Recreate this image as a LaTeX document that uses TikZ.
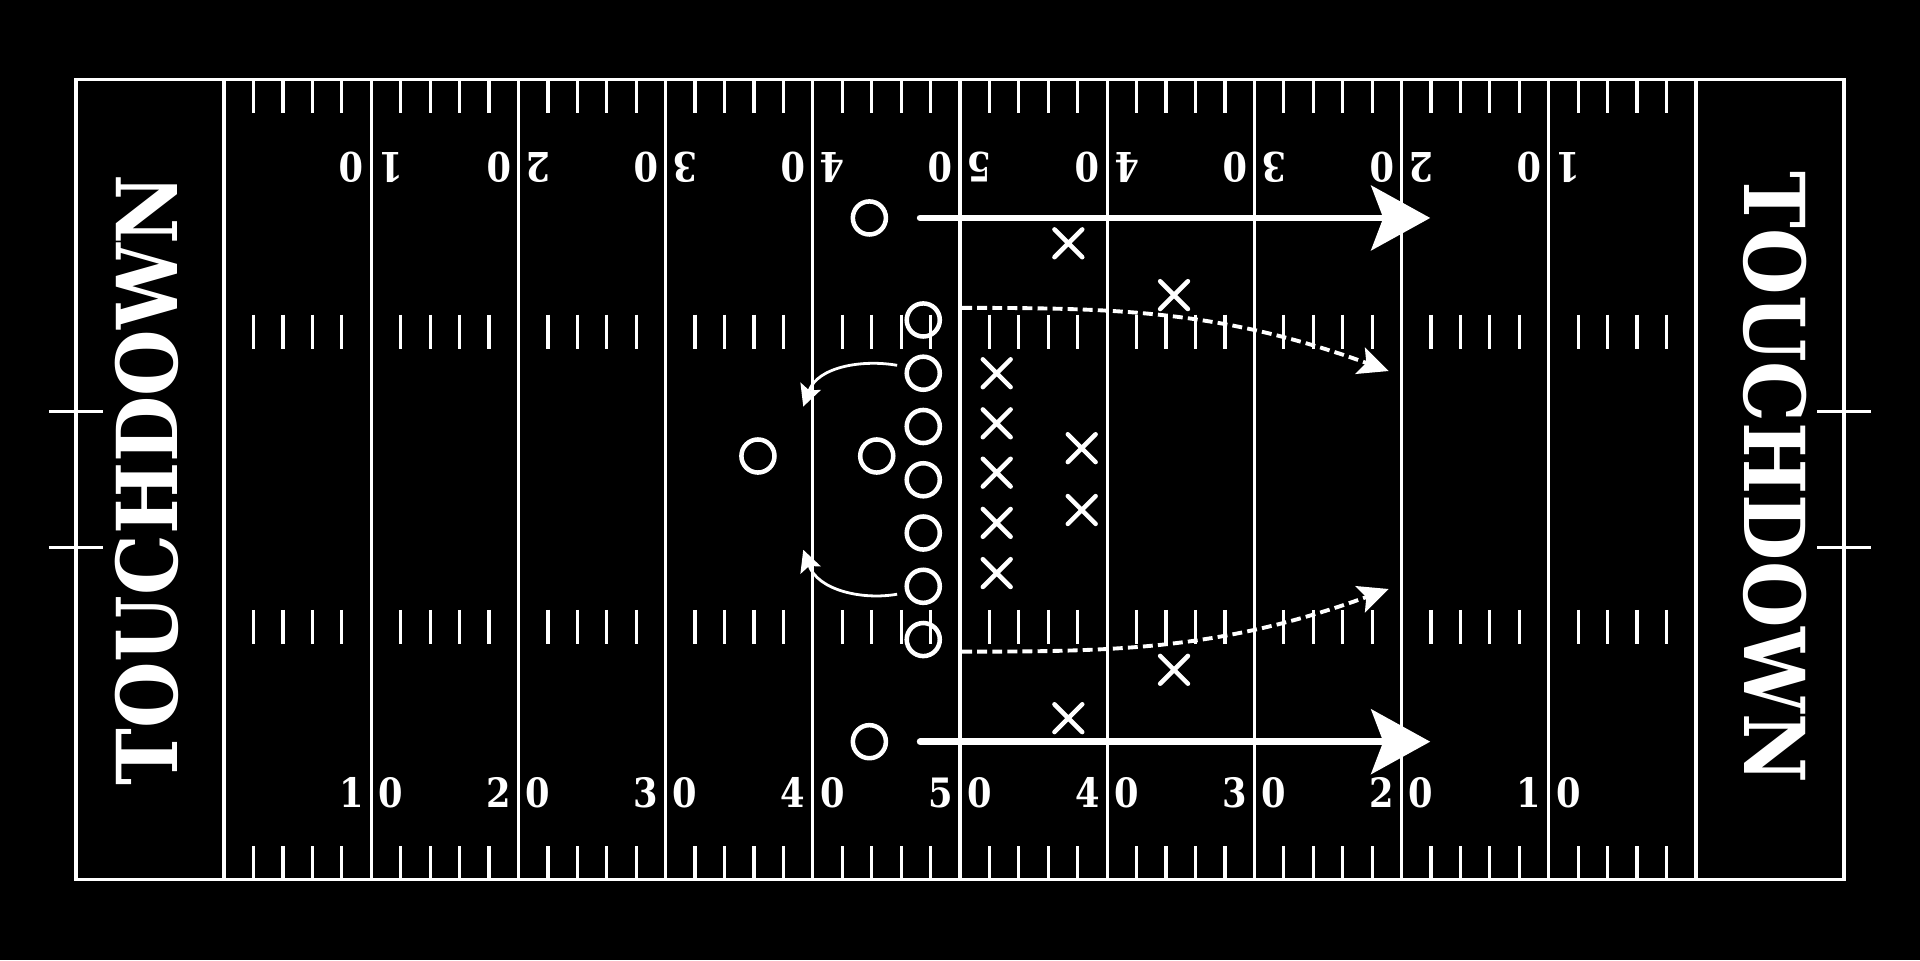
\documentclass[tikz,border=0pt]{standalone}
\usepackage{fontspec}
\newfontfamily\fieldfont[FakeStretch=0.87]{DejaVu Serif}
\newfontfamily\tdfont[FakeStretch=0.91]{DejaVu Serif}
\usepackage{tikz}
\usetikzlibrary{arrows.meta, shapes.misc}
\usepackage{xcolor}
\tikzstyle{onode} = [%
  circle,
  draw=white,
  line width=1.05pt,
  minimum size=0.27cm,
  inner sep=0pt,
  fill=none
]
\tikzstyle{xnode} = [%
  cross out,
  draw=white,
  line width=1.05pt,
  line cap=round,
  minimum size=0.19cm,
  inner sep=0pt
]
\tikzstyle{numnode} = [%
  text=white,
  inner sep=0pt,
  font=\fieldfont\bfseries\fontsize{9.4pt}{10pt}\selectfont
]
\tikzstyle{tdnode} = [%
  text=white,
  inner sep=0pt,
  font=\tdfont\bfseries\fontsize{19.5pt}{20pt}\selectfont
]

\begin{document}
\begin{tikzpicture}[%
  x=0.01cm, y=-0.01cm,
  field/.style={draw=white, line width=0.75pt},
  runarrow/.style={%
    draw=white, line width=1.5pt, line cap=round,
    -{Stealth[length=13.7pt, width=15pt, inset=2.8pt]}
  },
  routearrow/.style={%
    draw=white, line width=0.9pt, dash pattern=on 2.3pt off 1.2pt,
    -{Stealth[length=7pt, width=6.5pt, inset=1.5pt]}
  },
  sweeparrow/.style={%
    draw=white, line width=0.65pt,
    -{Stealth[length=5pt, width=5pt, inset=1pt]}
  }
]

  % Background
  \fill[black] (0,0) rectangle (1568,784);
  \useasboundingbox (0,0) rectangle (1568,784);

  % Field lines
  \draw[field] (62,65) rectangle (1506,718);
  \foreach \k in {0,...,10}
    \draw[field] (183+120.2*\k,65) -- (183+120.2*\k,718);
  \foreach \s in {0,...,9}
    \foreach \j in {1,...,4} {
      \draw[field] (183+120.2*\s+24.04*\j,65) -- ++(0,27);
      \draw[field] (183+120.2*\s+24.04*\j,257) -- ++(0,28);
      \draw[field] (183+120.2*\s+24.04*\j,498) -- ++(0,28);
      \draw[field] (183+120.2*\s+24.04*\j,691) -- ++(0,27);
    }
  \foreach \y in {336,447} {
    \draw[field] (40,\y) -- (84,\y);
    \draw[field] (1484,\y) -- (1528,\y);
  }

  % Yard numbers
  \foreach \k/\d in {1/1,2/2,3/3,4/4,5/5,6/4,7/3,8/2,9/1} {
    \node[numnode] (bl\k) at (183+120.2*\k-16,647.5) {\d};
    \node[numnode] (br\k) at (183+120.2*\k+16,647.5) {0};
    \node[numnode,rotate=180] (tl\k) at (183+120.2*\k-16,136.5) {0};
    \node[numnode,rotate=180] (tr\k) at (183+120.2*\k+16,136.5) {\d};
  }

  % End zones
  \node[tdnode,rotate=90] (TD1) at (120,392) {TOUCHDOWN};
  \node[tdnode,rotate=-90] (TD2) at (1450,390) {TOUCHDOWN};

  % Offense
  \node[onode] (O1) at (710,178) {};
  \node[onode] (O2) at (754,261.3) {};
  \node[onode] (O3) at (754,304.8) {};
  \node[onode] (O4) at (754,348.3) {};
  \node[onode] (O5) at (754,391.8) {};
  \node[onode] (O6) at (754,435.3) {};
  \node[onode] (O7) at (754,478.8) {};
  \node[onode] (O8) at (754,522.3) {};
  \node[onode] (O9) at (716,372.4) {};
  \node[onode] (O10) at (619,372.4) {};
  \node[onode] (O11) at (710,605.7) {};

  % Defense
  \node[xnode] (X1) at (872.5,198.7) {};
  \node[xnode] (X2) at (958.8,241) {};
  \node[xnode] (X3) at (814,304.8) {};
  \node[xnode] (X4) at (814,345.7) {};
  \node[xnode] (X5) at (814,386) {};
  \node[xnode] (X6) at (814,427) {};
  \node[xnode] (X7) at (814,468) {};
  \node[xnode] (X8) at (883.4,366) {};
  \node[xnode] (X9) at (883.4,416.5) {};
  \node[xnode] (X10) at (958.8,547) {};
  \node[xnode] (X11) at (872.5,586.5) {};

  % Route ends
  \coordinate (R1) at (1168,178);
  \coordinate (R2) at (1168,605.7);
  \coordinate (D1) at (1134,303);
  \coordinate (D2) at (1134,481);
  \coordinate (C1) at (656,332);
  \coordinate (C2) at (656,449);

  % Routes
  \draw[runarrow, shorten <=0.26cm] (O1) -- (R1);
  \draw[runarrow, shorten <=0.26cm] (O11) -- (R2);
  \draw[routearrow, shorten <=0.2cm] (O2.40) to[out=0, in=160] (D1);
  \draw[routearrow, shorten <=0.2cm] (O8.-40) to[out=0, in=200] (D2);
  \draw[sweeparrow, shorten <=0.07cm] (O3.160) to[out=170, in=70] (C1);
  \draw[sweeparrow, shorten <=0.07cm] (O7.200) to[out=190, in=290] (C2);

\end{tikzpicture}
\end{document}
